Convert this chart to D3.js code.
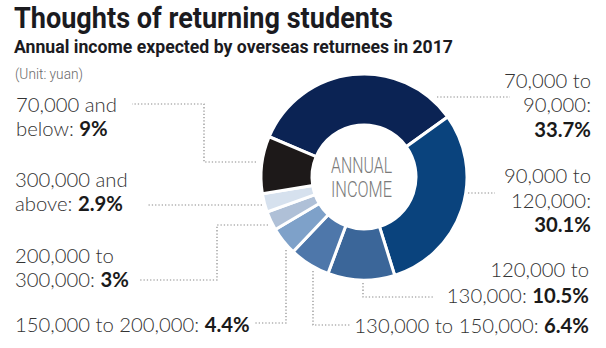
<!DOCTYPE html>
<html><head><meta charset="utf-8">
<script src="https://cdn.jsdelivr.net/npm/d3@7"></script>
<style>
html,body{margin:0;padding:0;background:#fff;}
svg{display:block;}
</style></head>
<body>
<script>
// ---- data ----
const categories = ["70,000 to 90,000", "90,000 to 120,000", "120,000 to 130,000", "130,000 to 150,000",
  "150,000 to 200,000", "200,000 to 300,000", "300,000 and above", "70,000 and below"];
const values = [33.7, 30.1, 10.5, 6.4, 4.4, 3, 2.9, 9];
const valueLabels = ["33.7%", "30.1%", "10.5%", "6.4%", "4.4%", "3%", "2.9%", "9%"];
const labelLines = [
  ["70,000 to", "90,000:", ""],
  ["90,000 to", "120,000:", ""],
  ["120,000 to", "130,000: "],
  ["130,000 to 150,000: "],
  ["150,000 to 200,000: "],
  ["200,000 to", "300,000: "],
  ["300,000 and", "above: "],
  ["70,000 and", "below: "]
];
const colors = ["#0b2354", "#0a437d", "#3b6699", "#4e77aa", "#7ea1c9", "#afc0d7", "#d6e1ee", "#1d1919"];

// ---- layout ----
const W = 606, H = 348;
const cx = 364, cy = 177, R = 103, r = 52;
const svg = d3.select("body").append("svg").attr("width", W).attr("height", H);
svg.append("rect").attr("width", W).attr("height", H).attr("fill", "#fff");

const titleFont = "Roboto, 'Liberation Sans', sans-serif";
const lightFont = "Lato, 'Open Sans', sans-serif";

svg.append("text").attr("x", 14).attr("y", 28)
  .attr("font-family", titleFont).attr("font-weight", 700).attr("font-size", 29)
  .attr("fill", "#1b1b1f").attr("textLength", 379).attr("lengthAdjust", "spacingAndGlyphs")
  .text("Thoughts of returning students");
svg.append("text").attr("x", 14).attr("y", 53)
  .attr("font-family", titleFont).attr("font-weight", 700).attr("font-size", 19)
  .attr("fill", "#1b1b1f").attr("textLength", 439).attr("lengthAdjust", "spacingAndGlyphs")
  .text("Annual income expected by overseas returnees in 2017");
svg.append("text").attr("x", 15).attr("y", 79)
  .attr("font-family", titleFont).attr("font-weight", 300).attr("font-size", 15)
  .attr("fill", "#6a6a6a").attr("textLength", 68).attr("lengthAdjust", "spacingAndGlyphs")
  .text("(Unit: yuan)");

// ---- donut ----
const start = -67 * Math.PI / 180;
const pie = d3.pie().sort(null).value(d => d).startAngle(start).endAngle(start + 2 * Math.PI);
const arcs = pie(values);
const arc = d3.arc().innerRadius(r).outerRadius(R);
const g = svg.append("g").attr("transform", `translate(${cx},${cy})`);
g.selectAll("path").data(arcs).join("path")
  .attr("d", arc).attr("fill", (d, i) => colors[i])
  .attr("stroke", "#fff").attr("stroke-width", 3).attr("stroke-linejoin", "miter");

// centre text
const centerFont = "Roboto, sans-serif";
[["ANNUAL", 173], ["INCOME", 197]].forEach(([t, y]) => {
  svg.append("text").attr("x", 331).attr("y", y)
    .attr("font-family", centerFont).attr("font-weight", 300).attr("font-size", 22)
    .attr("fill", "#7a7a7a").attr("textLength", 61).attr("lengthAdjust", "spacingAndGlyphs")
    .text(t);
});

// ---- labels (layout per category index) ----
const labelLayout = [
  {x: 591, anchor: "end", y: [88, 112, 137]},
  {x: 591, anchor: "end", y: [183, 208, 232]},
  {x: 589, anchor: "end", y: [277, 303]},
  {x: 589, anchor: "end", y: [333]},
  {x: 15, anchor: "start", y: [332]},
  {x: 15, anchor: "start", y: [263, 287]},
  {x: 15, anchor: "start", y: [187, 211]},
  {x: 16, anchor: "start", y: [112, 136]}
];
labelLines.forEach((lines, i) => {
  const L = labelLayout[i];
  lines.forEach((ln, j) => {
    const t = svg.append("text").attr("x", L.x).attr("y", L.y[j])
      .attr("text-anchor", L.anchor)
      .attr("font-family", lightFont).attr("font-size", 20.3).attr("fill", "#333");
    if (ln) t.append("tspan").attr("font-weight", 300).text(ln);
    if (j === lines.length - 1) t.append("tspan").attr("font-weight", 700).attr("fill", "#1a1a1a").text(valueLabels[i]);
  });
});

// ---- leader lines ----
const leaders = [
  [[437, 97], [510, 97]],
  [[468, 193], [495, 193]],
  [[363, 283], [363, 297], [434, 297]],
  [[313, 271], [313, 325], [351, 325]],
  [[286, 250], [286, 323], [254, 323]],
  [[268, 225], [217, 225], [217, 280], [139, 280]],
  [[262, 205], [147, 205]],
  [[256, 162], [204, 162], [204, 104], [132, 104]]
];
const line = d3.line();
svg.append("g").selectAll("path").data(leaders).join("path")
  .attr("d", line).attr("fill", "none").attr("stroke", "#8a8a8a")
  .attr("stroke-width", 1.2).attr("stroke-dasharray", "1.3,2");
</script>
</body></html>
